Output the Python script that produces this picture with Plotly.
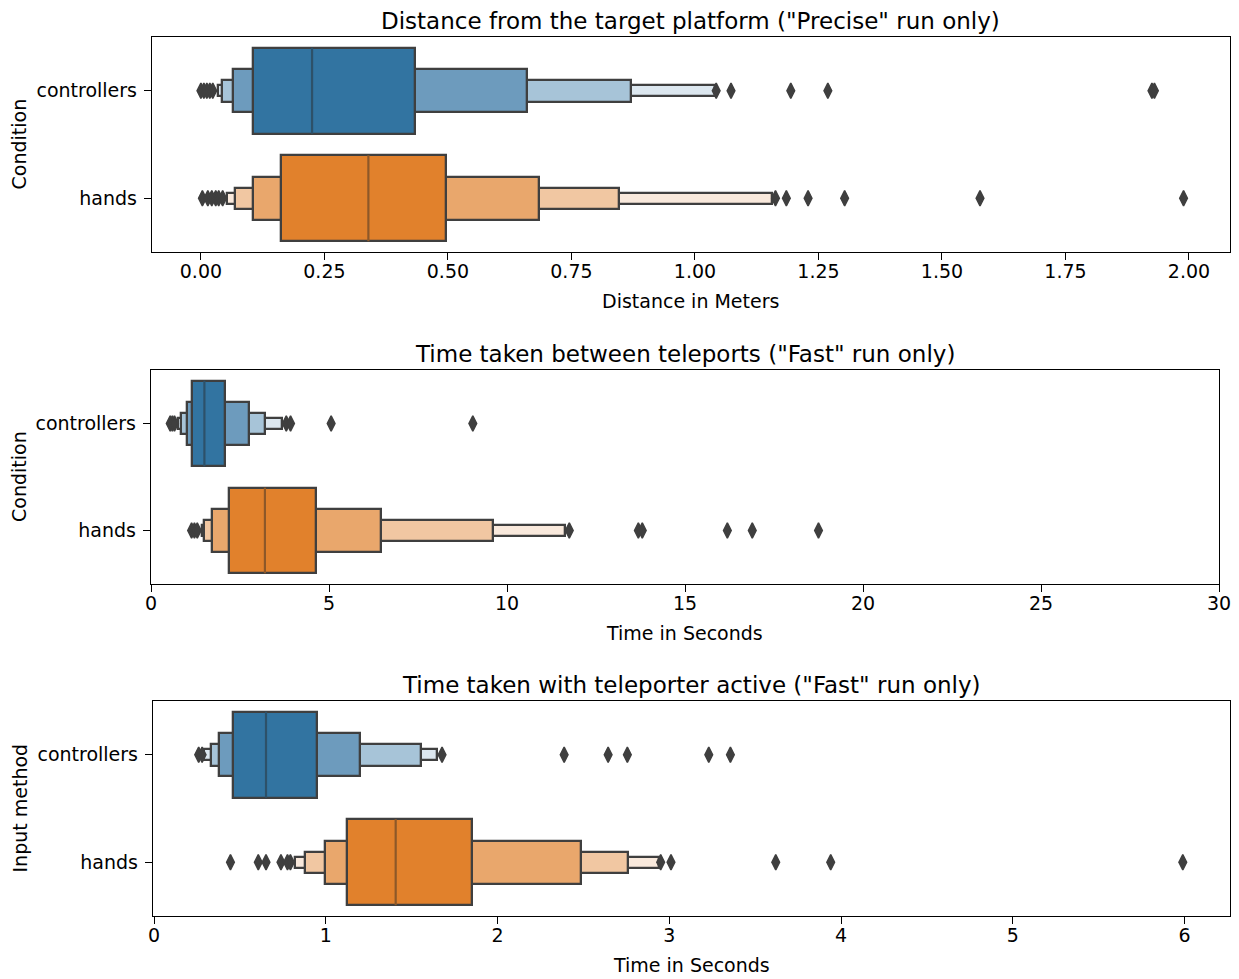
import plotly.graph_objects as go

W, H = 1239, 979
OFF = 8  # the page body adds an 8px margin around the figure

categories = ["controllers", "hands"]
cat_pos = [0, 1]

# ---- Panel 1: Distance from the target platform (Precise run) ----
dist_ctrl_lower = [0.106, 0.064, 0.042, 0.034]
dist_ctrl_upper = [0.433, 0.661, 0.870, 1.041]
dist_ctrl_median = 0.225
dist_ctrl_outliers = [0.000, 0.006, 0.012, 0.018, 0.024, 1.043, 1.073, 1.194, 1.269, 1.925, 1.930]
dist_hands_lower = [0.162, 0.106, 0.070, 0.053]
dist_hands_upper = [0.497, 0.685, 0.846, 1.155]
dist_hands_median = 0.339
dist_hands_outliers = [0.003, 0.014, 0.022, 0.030, 0.036, 0.044, 1.163, 1.185, 1.229, 1.303, 1.577, 1.989]
dist_ticks = [0.0, 0.25, 0.5, 0.75, 1.0, 1.25, 1.5, 1.75, 2.0]
dist_ticktext = ["0.00", "0.25", "0.50", "0.75", "1.00", "1.25", "1.50", "1.75", "2.00"]

# ---- Panel 2: Time taken between teleports (Fast run) ----
tele_ctrl_lower = [1.16, 1.00, 0.85, 0.77]
tele_ctrl_upper = [2.08, 2.74, 3.21, 3.68]
tele_ctrl_median = 1.50
tele_ctrl_outliers = [0.54, 0.60, 0.66, 3.80, 3.92, 5.06, 9.04]
tele_hands_lower = [2.20, 1.715, 1.50, 1.42]
tele_hands_upper = [4.64, 6.46, 9.61, 11.64]
tele_hands_median = 3.20
tele_hands_outliers = [1.14, 1.22, 1.30, 11.75, 13.69, 13.80, 16.19, 16.89, 18.75]
tele_ticks = [0, 5, 10, 15, 20, 25, 30]
tele_ticktext = ["0", "5", "10", "15", "20", "25", "30"]

# ---- Panel 3: Time taken with teleporter active (Fast run) ----
act_ctrl_lower = [0.459, 0.376, 0.330, 0.293]
act_ctrl_upper = [0.949, 1.199, 1.556, 1.646]
act_ctrl_median = 0.652
act_ctrl_outliers = [0.26, 0.28, 1.677, 2.388, 2.644, 2.756, 3.23, 3.356]
act_hands_lower = [1.126, 0.998, 0.877, 0.818]
act_hands_upper = [1.852, 2.484, 2.762, 2.94]
act_hands_median = 1.407
act_hands_outliers = [0.445, 0.607, 0.652, 0.739, 0.777, 0.794, 2.95, 3.01, 3.62, 3.94, 5.99]
act_ticks = [0, 1, 2, 3, 4, 5, 6]
act_ticktext = ["0", "1", "2", "3", "4", "5", "6"]

titles = ['Distance from the target platform ("Precise" run only)',
          'Time taken between teleports ("Fast" run only)',
          'Time taken with teleporter active ("Fast" run only)']
xlabels = ["Distance in Meters", "Time in Seconds", "Time in Seconds"]
ylabels = ["Condition", "Condition", "Input method"]

# ---- styles ----
level_heights = [0.8, 0.4, 0.2, 0.1]
blue_levels = ["#3274a1", "#6d9bbd", "#a7c4d8", "#dce7ef"]
orange_levels = ["#e1812c", "#e9a76c", "#f1c7a2", "#f9e9dc"]
median_colors = ["#2d5169", "#8d5829"]
gray = "#3f3f3f"
FONT = "DejaVu Sans"

FW, FH = W - OFF, H - OFF
# pixel layout (in the final picture) of the three axes boxes: (left, right, top, bottom)
boxes_px = [(152, 1229.5, 37, 252), (151, 1219, 370, 584), (153, 1229.5, 701, 916)]
xranges = [[-0.099, 2.082], [0, 30], [-0.006, 6.262]]

panels = [
    dict(lower=[dist_ctrl_lower, dist_hands_lower], upper=[dist_ctrl_upper, dist_hands_upper],
         median=[dist_ctrl_median, dist_hands_median], outl=[dist_ctrl_outliers, dist_hands_outliers],
         ticks=dist_ticks, ticktext=dist_ticktext),
    dict(lower=[tele_ctrl_lower, tele_hands_lower], upper=[tele_ctrl_upper, tele_hands_upper],
         median=[tele_ctrl_median, tele_hands_median], outl=[tele_ctrl_outliers, tele_hands_outliers],
         ticks=tele_ticks, ticktext=tele_ticktext),
    dict(lower=[act_ctrl_lower, act_hands_lower], upper=[act_ctrl_upper, act_hands_upper],
         median=[act_ctrl_median, act_hands_median], outl=[act_ctrl_outliers, act_hands_outliers],
         ticks=act_ticks, ticktext=act_ticktext),
]


def px_x(x):
    return (x - OFF) / FW


def px_y(y):
    return 1 - (y - OFF) / FH


fig = go.Figure()
annotations = []
layout_axes = {}

for p, panel in enumerate(panels):
    n = p + 1
    xa = "x" if n == 1 else f"x{n}"
    ya = "y" if n == 1 else f"y{n}"
    # letter-value boxes, narrowest (outermost) first so the main box is on top
    for lvl in reversed(range(len(level_heights))):
        bases = [panel["lower"][c][lvl] for c in range(2)]
        lengths = [panel["upper"][c][lvl] - panel["lower"][c][lvl] for c in range(2)]
        fig.add_trace(go.Bar(
            orientation="h", y=cat_pos, x=lengths, base=bases,
            width=[level_heights[lvl]] * 2,
            marker=dict(color=[blue_levels[lvl], orange_levels[lvl]],
                        line=dict(color=gray, width=2.3)),
            xaxis=xa, yaxis=ya, showlegend=False, hoverinfo="skip"))
    # median lines
    for c in range(2):
        m = panel["median"][c]
        half = level_heights[0] / 2
        fig.add_trace(go.Scatter(
            x=[m, m], y=[cat_pos[c] - half, cat_pos[c] + half], mode="lines",
            line=dict(color=median_colors[c], width=2.2),
            xaxis=xa, yaxis=ya, showlegend=False, hoverinfo="skip"))
    # outliers
    for c in range(2):
        pts = panel["outl"][c]
        fig.add_trace(go.Scatter(
            x=pts, y=[cat_pos[c]] * len(pts), mode="markers",
            marker=dict(symbol="diamond-tall", size=11, color=gray,
                        line=dict(color=gray, width=1.5)),
            xaxis=xa, yaxis=ya, showlegend=False, hoverinfo="skip"))

    L, R, T, B = boxes_px[p]
    xdom = [px_x(L), px_x(R)]
    ydom = [px_y(B), px_y(T)]
    axis_common = dict(showline=True, linecolor="#000000", linewidth=1.4, mirror=True,
                       ticks="outside", ticklen=7, tickwidth=1.4, tickcolor="#000000",
                       showgrid=False, zeroline=False, automargin=False,
                       tickfont=dict(family=FONT, size=19, color="#000000"))
    layout_axes["xaxis" if n == 1 else f"xaxis{n}"] = dict(
        domain=xdom, anchor=ya, range=xranges[p], tickmode="array",
        tickvals=panel["ticks"], ticktext=panel["ticktext"], ticklabelstandoff=-5, **axis_common)
    layout_axes["yaxis" if n == 1 else f"yaxis{n}"] = dict(
        domain=ydom, anchor=xa, range=[1.5, -0.5], tickmode="array",
        tickvals=cat_pos, ticktext=categories, ticklabelstandoff=3, **axis_common)

    cx = px_x((L + R) / 2)
    annotations.append(dict(text=titles[p], x=cx, y=px_y(T - 16.5), xref="paper", yref="paper",
                            xanchor="center", yanchor="middle", showarrow=False,
                            font=dict(family=FONT, size=23, color="#000000")))
    annotations.append(dict(text=xlabels[p], x=cx, y=px_y(B + 49), xref="paper", yref="paper",
                            xanchor="center", yanchor="middle", showarrow=False,
                            font=dict(family=FONT, size=19, color="#000000")))
    annotations.append(dict(text=ylabels[p], x=px_x(19), y=px_y((T + B) / 2), xref="paper",
                            yref="paper", xanchor="center", yanchor="middle", showarrow=False,
                            textangle=-90, font=dict(family=FONT, size=19, color="#000000")))

fig.update_layout(width=FW, height=FH, margin=dict(l=0, r=0, t=0, b=0, autoexpand=False),
                  paper_bgcolor="white", plot_bgcolor="white", barmode="overlay",
                  bargap=0, annotations=annotations, **layout_axes)

fig.write_html("out.html")
